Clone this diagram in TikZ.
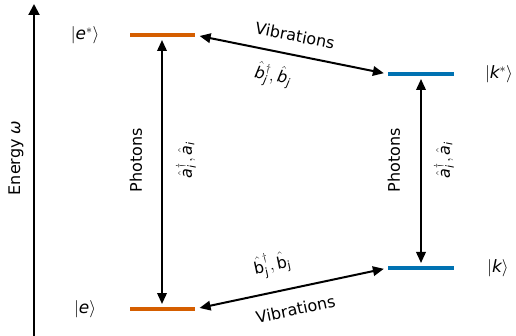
\documentclass[tikz,border=0pt]{standalone}
\usepackage{fontspec}
\setmainfont{DejaVu Sans}
\usepackage{tikz}
\usetikzlibrary{arrows.meta,positioning,calc}
\definecolor{eorange}{HTML}{D55E00}
\definecolor{kblue}{HTML}{0072B2}
\tikzset{
  elev/.style={fill=eorange, inner sep=0pt, minimum width=65pt, minimum height=3.6pt},
  klev/.style={fill=kblue, inner sep=0pt, minimum width=66pt, minimum height=3.6pt},
  dbl/.style={{Triangle[length=11pt,width=9.5pt]}-{Triangle[length=11pt,width=9.5pt]}, line width=2pt},
  eax/.style={-{Triangle[length=11pt,width=11pt]}, line width=2pt},
  ket/.style={inner sep=0pt, font=\fontsize{17}{20}\selectfont},
  lab/.style={inner sep=0pt},
}

\begin{document}
\begin{tikzpicture}[x=1pt,y=-1pt,font=\fontsize{16}{19}\selectfont]
\useasboundingbox (0,0) rectangle (516,336);
% energy axis
\coordinate (ebot) at (34,337);
\coordinate (etop) at (34,4);
\draw[eax] (ebot) -- (etop);
\node[lab, rotate=90] (energy) at (16,158) {Energy {\itshape ω}};
% levels
\node[elev] (estar) at (162,35) {};
\node[elev] (e) at (162,309) {};
\node[klev] (kstar) at (421,74) {};
\node[klev] (k) at (421,268) {};
\node[ket] (estarlab) at (85,35) {$|\mathit{e}^{*}\rangle$};
\node[ket] (elab) at (85,309) {$|\mathit{e}\rangle$};
\node[ket] (kstarlab) at (499,74) {$|\mathit{k}^{*}\rangle$};
\node[ket] (klab) at (498,268) {$|\mathit{k}\rangle$};
% photons
\draw[dbl, shorten <=3pt, shorten >=3pt] (e.north) -- (estar.south);
\node[lab, rotate=90] (phlab1) at (136,160) {Photons};
\node[lab, rotate=90] (oplab1) at (186,160) {$\hat{\mathit{a}}^{\dagger}_{\mathit{i}},\hat{\mathit{a}}_{\mathit{i}}$};
\draw[dbl, shorten <=3pt, shorten >=3pt] (k.north) -- (kstar.south);
\node[lab, rotate=90] (phlab2) at (394,160) {Photons};
\node[lab, rotate=90] (oplab2) at (444,160) {$\hat{\mathit{a}}^{\dagger}_{\mathit{i}},\hat{\mathit{a}}_{\mathit{i}}$};
% vibrations
\draw[dbl, shorten <=5pt, shorten >=4pt] (estar.east) -- (kstar.west)
  node[pos=0.5, sloped, above=12pt, lab] (vib1) {Vibrations}
  node[pos=0.43, sloped, below=12pt, lab] (bop1) {$\hat{\mathit{b}}^{\dagger}_{\mathit{j}},\hat{\mathit{b}}_{\mathit{j}}$};
\draw[dbl, shorten <=5pt, shorten >=4pt] (e.east) -- (k.west)
  node[pos=0.5, sloped, below=14pt, lab] (vib2) {Vibrations}
  node[pos=0.43, sloped, above=14pt, lab] (bop2) {$\hat{\mathrm{b}}^{\dagger}_{\mathrm{j}},\hat{\mathrm{b}}_{\mathrm{j}}$};
\end{tikzpicture}
\end{document}
